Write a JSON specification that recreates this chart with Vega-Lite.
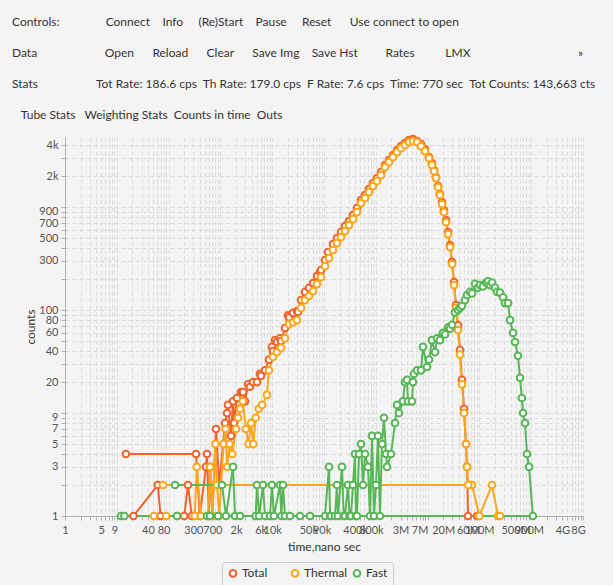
{
"$schema":"https://vega.github.io/schema/vega-lite/v6.json",
"width":518,"height":379,
"autosize":{"type":"none"},
"padding":{"left":65,"top":137,"right":30,"bottom":69},
"background":"#f4f4f4",
"title":{"text":[
"Controls:\u00a0\u00a0\u00a0\u00a0\u00a0\u00a0\u00a0\u00a0\u00a0\u00a0\u00a0\u00a0\u00a0\u00a0\u00a0Connect\u00a0\u00a0\u00a0\u00a0Info\u00a0\u00a0\u00a0\u00a0\u00a0(Re)Start\u00a0\u00a0\u00a0\u00a0Pause\u00a0\u00a0\u00a0\u00a0\u00a0Reset\u00a0\u00a0\u00a0\u00a0\u00a0\u00a0Use connect to open",
"Data\u00a0\u00a0\u00a0\u00a0\u00a0\u00a0\u00a0\u00a0\u00a0\u00a0\u00a0\u00a0\u00a0\u00a0\u00a0\u00a0\u00a0\u00a0\u00a0\u00a0\u00a0\u00a0Open\u00a0\u00a0\u00a0\u00a0\u00a0\u00a0Reload\u00a0\u00a0\u00a0\u00a0\u00a0\u00a0Clear\u00a0\u00a0\u00a0\u00a0\u00a0\u00a0Save Img\u00a0\u00a0\u00a0\u00a0Save Hst\u00a0\u00a0\u00a0\u00a0\u00a0\u00a0\u00a0\u00a0\u00a0Rates\u00a0\u00a0\u00a0\u00a0\u00a0\u00a0\u00a0\u00a0\u00a0\u00a0LMX\u00a0\u00a0\u00a0\u00a0\u00a0\u00a0\u00a0\u00a0\u00a0\u00a0\u00a0\u00a0\u00a0\u00a0\u00a0\u00a0\u00a0\u00a0\u00a0\u00a0\u00a0\u00a0\u00a0\u00a0\u00a0\u00a0\u00a0\u00a0\u00a0\u00a0\u00a0\u00a0\u00a0\u00a0\u00a0»",
"Stats\u00a0\u00a0\u00a0\u00a0\u00a0\u00a0\u00a0\u00a0\u00a0\u00a0\u00a0\u00a0\u00a0\u00a0\u00a0\u00a0\u00a0\u00a0\u00a0Tot Rate: 186.6 cps\u00a0\u00a0Th Rate: 179.0 cps\u00a0\u00a0F Rate: 7.6 cps\u00a0\u00a0Time: 770 sec\u00a0\u00a0Tot Counts: 143,663 cts",
"\u200b\u00a0\u00a0\u00a0Tube Stats\u00a0\u00a0\u00a0Weighting Stats\u00a0\u00a0Counts in time\u00a0\u00a0Outs"],
"anchor":"start","frame":"group","dx":-53,"offset":10,"limit":600,"fontSize":12,"fontWeight":"normal","font":"Lato","color":"#333333","lineHeight":31},
"data":{"values":[
{"s":"Total","i":1,"x":15,"y":4},{"s":"Total","i":2,"x":338,"y":4},{"s":"Total","i":3,"x":400,"y":1},{"s":"Total","i":4,"x":527,"y":3},{"s":"Total","i":5,"x":551,"y":4},{"s":"Total","i":6,"x":600,"y":1},{"s":"Total","i":7,"x":630,"y":3},{"s":"Total","i":8,"x":700,"y":1},{"s":"Total","i":9,"x":822,"y":7},{"s":"Total","i":10,"x":950,"y":2},
{"s":"Total","i":11,"x":1227,"y":8},{"s":"Total","i":12,"x":1340,"y":10},{"s":"Total","i":13,"x":1402,"y":12},{"s":"Total","i":14,"x":1600,"y":6},{"s":"Total","i":15,"x":1751,"y":13},{"s":"Total","i":16,"x":1832,"y":8},{"s":"Total","i":17,"x":2091,"y":14},{"s":"Total","i":18,"x":2500,"y":16},{"s":"Total","i":19,"x":2731,"y":16},{"s":"Total","i":20,"x":2985,"y":13},
{"s":"Total","i":21,"x":3412,"y":19},{"s":"Total","i":22,"x":3726,"y":18},{"s":"Total","i":23,"x":4260,"y":20},{"s":"Total","i":24,"x":5090,"y":20},{"s":"Total","i":25,"x":5810,"y":24},{"s":"Total","i":26,"x":6080,"y":23},{"s":"Total","i":27,"x":7260,"y":26},{"s":"Total","i":28,"x":8670,"y":33},{"s":"Total","i":29,"x":9910,"y":44},{"s":"Total","i":30,"x":10360,"y":40},
{"s":"Total","i":31,"x":11330,"y":51},{"s":"Total","i":32,"x":12380,"y":49},{"s":"Total","i":33,"x":14150,"y":53},{"s":"Total","i":34,"x":14790,"y":50},{"s":"Total","i":35,"x":17660,"y":67},{"s":"Total","i":36,"x":20180,"y":89},{"s":"Total","i":37,"x":21090,"y":85},{"s":"Total","i":38,"x":25200,"y":94},{"s":"Total","i":39,"x":30100,"y":98},{"s":"Total","i":40,"x":31480,"y":96},
{"s":"Total","i":41,"x":35970,"y":125},{"s":"Total","i":42,"x":42980,"y":150},{"s":"Total","i":43,"x":51300,"y":164},{"s":"Total","i":44,"x":61380,"y":183},{"s":"Total","i":45,"x":73300,"y":214},{"s":"Total","i":46,"x":83750,"y":234},{"s":"Total","i":47,"x":87500,"y":245},{"s":"Total","i":48,"x":104500,"y":306},{"s":"Total","i":49,"x":119400,"y":366},{"s":"Total","i":50,"x":149200,"y":437},
{"s":"Total","i":51,"x":178300,"y":500},{"s":"Total","i":52,"x":212800,"y":572},{"s":"Total","i":53,"x":254300,"y":654},{"s":"Total","i":54,"x":304000,"y":731},{"s":"Total","i":55,"x":363000,"y":836},{"s":"Total","i":56,"x":433600,"y":977},{"s":"Total","i":57,"x":518000,"y":1169},{"s":"Total","i":58,"x":619000,"y":1309},{"s":"Total","i":59,"x":739000,"y":1496},{"s":"Total","i":60,"x":883000,"y":1710},
{"s":"Total","i":61,"x":1054000,"y":1914},{"s":"Total","i":62,"x":1260000,"y":2188},{"s":"Total","i":63,"x":1506000,"y":2560},{"s":"Total","i":64,"x":1800000,"y":2860},{"s":"Total","i":65,"x":2150000,"y":3200},{"s":"Total","i":66,"x":2570000,"y":3573},{"s":"Total","i":67,"x":3060000,"y":3910},{"s":"Total","i":68,"x":3660000,"y":4180},{"s":"Total","i":69,"x":4370000,"y":4470},{"s":"Total","i":70,"x":5230000,"y":4570},
{"s":"Total","i":71,"x":6240000,"y":4375},{"s":"Total","i":72,"x":7460000,"y":4090},{"s":"Total","i":73,"x":8910000,"y":3655},{"s":"Total","i":74,"x":10650000,"y":3055},{"s":"Total","i":75,"x":12160000,"y":2673},{"s":"Total","i":76,"x":13300000,"y":2287},{"s":"Total","i":77,"x":14520000,"y":1955},{"s":"Total","i":78,"x":15880000,"y":1600},{"s":"Total","i":79,"x":17300000,"y":1337},{"s":"Total","i":80,"x":18970000,"y":1118},
{"s":"Total","i":81,"x":20700000,"y":935},{"s":"Total","i":82,"x":22700000,"y":748},{"s":"Total","i":83,"x":24800000,"y":572},{"s":"Total","i":84,"x":27100000,"y":427},{"s":"Total","i":85,"x":29600000,"y":292},{"s":"Total","i":86,"x":32400000,"y":187},{"s":"Total","i":87,"x":35300000,"y":112},{"s":"Total","i":88,"x":38600000,"y":71},{"s":"Total","i":89,"x":42200000,"y":41},{"s":"Total","i":90,"x":46100000,"y":21},
{"s":"Total","i":91,"x":50500000,"y":11},{"s":"Total","i":92,"x":55100000,"y":5},{"s":"Total","i":93,"x":57700000,"y":3},{"s":"Total","i":94,"x":60300000,"y":1},{"s":"Total","i":95,"x":90000000,"y":1},{"s":"Total","i":96,"x":21,"y":1},{"s":"Total","i":97,"x":62,"y":2},{"s":"Total","i":98,"x":70,"y":1},{"s":"Total","i":99,"x":200,"y":1},{"s":"Total","i":100,"x":237,"y":2},{"s":"Total","i":101,"x":280,"y":1},
{"s":"Thermal","i":1,"x":78,"y":2},{"s":"Thermal","i":2,"x":63000000,"y":2},{"s":"Thermal","i":3,"x":72000000,"y":2},{"s":"Thermal","i":4,"x":100000000,"y":1},{"s":"Thermal","i":5,"x":175000000,"y":2},{"s":"Thermal","i":6,"x":229000000,"y":1},{"s":"Thermal","i":7,"x":250000000,"y":1},{"s":"Thermal","i":8,"x":52,"y":1},{"s":"Thermal","i":9,"x":90,"y":1},{"s":"Thermal","i":10,"x":150,"y":1},
{"s":"Thermal","i":11,"x":320,"y":1},{"s":"Thermal","i":12,"x":350,"y":3},{"s":"Thermal","i":13,"x":420,"y":1},{"s":"Thermal","i":14,"x":580,"y":1},{"s":"Thermal","i":15,"x":630,"y":3},{"s":"Thermal","i":16,"x":700,"y":1},{"s":"Thermal","i":17,"x":800,"y":5},{"s":"Thermal","i":18,"x":860,"y":2},{"s":"Thermal","i":19,"x":950,"y":1},{"s":"Thermal","i":20,"x":1150,"y":5},
{"s":"Thermal","i":21,"x":1250,"y":7},{"s":"Thermal","i":22,"x":1350,"y":3},{"s":"Thermal","i":23,"x":1500,"y":5},{"s":"Thermal","i":24,"x":1700,"y":4},{"s":"Thermal","i":25,"x":2000,"y":7},{"s":"Thermal","i":26,"x":2200,"y":9},{"s":"Thermal","i":27,"x":2400,"y":11},{"s":"Thermal","i":28,"x":2700,"y":13},{"s":"Thermal","i":29,"x":3100,"y":7},{"s":"Thermal","i":30,"x":3500,"y":5},
{"s":"Thermal","i":31,"x":3900,"y":8},{"s":"Thermal","i":32,"x":4300,"y":5},{"s":"Thermal","i":33,"x":4800,"y":9},{"s":"Thermal","i":34,"x":5500,"y":11},{"s":"Thermal","i":35,"x":6400,"y":12},{"s":"Thermal","i":36,"x":7900,"y":15},{"s":"Thermal","i":37,"x":8670,"y":26},{"s":"Thermal","i":38,"x":10360,"y":35},{"s":"Thermal","i":39,"x":12380,"y":39},{"s":"Thermal","i":40,"x":14790,"y":43},
{"s":"Thermal","i":41,"x":17660,"y":53},{"s":"Thermal","i":42,"x":21090,"y":73},{"s":"Thermal","i":43,"x":25200,"y":76},{"s":"Thermal","i":44,"x":30100,"y":80},{"s":"Thermal","i":45,"x":35970,"y":105},{"s":"Thermal","i":46,"x":42980,"y":125},{"s":"Thermal","i":47,"x":51300,"y":137},{"s":"Thermal","i":48,"x":61380,"y":153},{"s":"Thermal","i":49,"x":73300,"y":179},{"s":"Thermal","i":50,"x":87500,"y":209},
{"s":"Thermal","i":51,"x":104500,"y":267},{"s":"Thermal","i":52,"x":125000,"y":320},{"s":"Thermal","i":53,"x":149200,"y":383},{"s":"Thermal","i":54,"x":178300,"y":447},{"s":"Thermal","i":55,"x":212800,"y":512},{"s":"Thermal","i":56,"x":254300,"y":585},{"s":"Thermal","i":57,"x":304000,"y":669},{"s":"Thermal","i":58,"x":363000,"y":764},{"s":"Thermal","i":59,"x":433600,"y":894},{"s":"Thermal","i":60,"x":518000,"y":1094},
{"s":"Thermal","i":61,"x":619000,"y":1223},{"s":"Thermal","i":62,"x":739000,"y":1399},{"s":"Thermal","i":63,"x":883000,"y":1600},{"s":"Thermal","i":64,"x":1054000,"y":1787},{"s":"Thermal","i":65,"x":1260000,"y":2045},{"s":"Thermal","i":66,"x":1506000,"y":2445},{"s":"Thermal","i":67,"x":1800000,"y":2735},{"s":"Thermal","i":68,"x":2150000,"y":3055},{"s":"Thermal","i":69,"x":2570000,"y":3418},{"s":"Thermal","i":70,"x":3060000,"y":3740},
{"s":"Thermal","i":71,"x":3660000,"y":4000},{"s":"Thermal","i":72,"x":4370000,"y":4276},{"s":"Thermal","i":73,"x":5230000,"y":4375},{"s":"Thermal","i":74,"x":6240000,"y":4276},{"s":"Thermal","i":75,"x":7460000,"y":3910},{"s":"Thermal","i":76,"x":8910000,"y":3500},{"s":"Thermal","i":77,"x":10650000,"y":2990},{"s":"Thermal","i":78,"x":12160000,"y":2560},{"s":"Thermal","i":79,"x":13300000,"y":2237},{"s":"Thermal","i":80,"x":14520000,"y":1914},
{"s":"Thermal","i":81,"x":15880000,"y":1564},{"s":"Thermal","i":82,"x":17300000,"y":1309},{"s":"Thermal","i":83,"x":18970000,"y":1069},{"s":"Thermal","i":84,"x":20700000,"y":894},{"s":"Thermal","i":85,"x":22700000,"y":715},{"s":"Thermal","i":86,"x":24800000,"y":547},{"s":"Thermal","i":87,"x":27100000,"y":409},{"s":"Thermal","i":88,"x":29600000,"y":280},{"s":"Thermal","i":89,"x":32400000,"y":175},{"s":"Thermal","i":90,"x":35300000,"y":105},
{"s":"Thermal","i":91,"x":38600000,"y":64},{"s":"Thermal","i":92,"x":42200000,"y":37},{"s":"Thermal","i":93,"x":46100000,"y":19},{"s":"Thermal","i":94,"x":50500000,"y":10},{"s":"Thermal","i":95,"x":55100000,"y":5},{"s":"Thermal","i":96,"x":57700000,"y":3},{"s":"Thermal","i":97,"x":61000000,"y":2},
{"s":"Fast","i":1,"x":133,"y":2},{"s":"Fast","i":2,"x":1074,"y":2},{"s":"Fast","i":3,"x":1283,"y":1},{"s":"Fast","i":4,"x":1751,"y":3},{"s":"Fast","i":5,"x":1914,"y":1},{"s":"Fast","i":6,"x":2389,"y":1},{"s":"Fast","i":7,"x":4800,"y":1},{"s":"Fast","i":8,"x":5090,"y":2},{"s":"Fast","i":9,"x":5600,"y":1},{"s":"Fast","i":10,"x":6640,"y":2},
{"s":"Fast","i":11,"x":7260,"y":1},{"s":"Fast","i":12,"x":9070,"y":1},{"s":"Fast","i":13,"x":9910,"y":2},{"s":"Fast","i":14,"x":10800,"y":1},{"s":"Fast","i":15,"x":14150,"y":2},{"s":"Fast","i":16,"x":15000,"y":1},{"s":"Fast","i":17,"x":16180,"y":2},{"s":"Fast","i":18,"x":17660,"y":1},{"s":"Fast","i":19,"x":22080,"y":1},{"s":"Fast","i":20,"x":34440,"y":1},
{"s":"Fast","i":21,"x":53700,"y":1},{"s":"Fast","i":22,"x":104500,"y":1},{"s":"Fast","i":23,"x":125000,"y":3},{"s":"Fast","i":24,"x":131000,"y":1},{"s":"Fast","i":25,"x":136500,"y":1},{"s":"Fast","i":26,"x":163000,"y":1},{"s":"Fast","i":27,"x":178300,"y":2},{"s":"Fast","i":28,"x":186000,"y":1},{"s":"Fast","i":29,"x":222700,"y":3},{"s":"Fast","i":30,"x":240000,"y":1},
{"s":"Fast","i":31,"x":254300,"y":1},{"s":"Fast","i":32,"x":290500,"y":2},{"s":"Fast","i":33,"x":310000,"y":1},{"s":"Fast","i":34,"x":331900,"y":1},{"s":"Fast","i":35,"x":363000,"y":2},{"s":"Fast","i":36,"x":396500,"y":4},{"s":"Fast","i":37,"x":414000,"y":1},{"s":"Fast","i":38,"x":433600,"y":1},{"s":"Fast","i":39,"x":474000,"y":4},{"s":"Fast","i":40,"x":518000,"y":5},
{"s":"Fast","i":41,"x":566400,"y":2},{"s":"Fast","i":42,"x":619000,"y":4},{"s":"Fast","i":43,"x":706700,"y":3},{"s":"Fast","i":44,"x":773000,"y":1},{"s":"Fast","i":45,"x":845000,"y":6},{"s":"Fast","i":46,"x":923000,"y":1},{"s":"Fast","i":47,"x":1009000,"y":2},{"s":"Fast","i":48,"x":1103000,"y":6},{"s":"Fast","i":49,"x":1200000,"y":1},{"s":"Fast","i":50,"x":1318000,"y":5},
{"s":"Fast","i":51,"x":1440000,"y":9},{"s":"Fast","i":52,"x":1574000,"y":4},{"s":"Fast","i":53,"x":1645000,"y":3},{"s":"Fast","i":54,"x":1965000,"y":4},{"s":"Fast","i":55,"x":2350000,"y":8},{"s":"Fast","i":56,"x":2570000,"y":12},{"s":"Fast","i":57,"x":2800000,"y":10},{"s":"Fast","i":58,"x":3350000,"y":13},{"s":"Fast","i":59,"x":3660000,"y":20},{"s":"Fast","i":60,"x":4000000,"y":21},
{"s":"Fast","i":61,"x":4190000,"y":13},{"s":"Fast","i":62,"x":5000000,"y":13},{"s":"Fast","i":63,"x":5230000,"y":20},{"s":"Fast","i":64,"x":5460000,"y":24},{"s":"Fast","i":65,"x":6240000,"y":26},{"s":"Fast","i":66,"x":7460000,"y":26},{"s":"Fast","i":67,"x":8150000,"y":44},{"s":"Fast","i":68,"x":9730000,"y":28},{"s":"Fast","i":69,"x":10650000,"y":33},{"s":"Fast","i":70,"x":12160000,"y":51},
{"s":"Fast","i":71,"x":13900000,"y":39},{"s":"Fast","i":72,"x":15200000,"y":53},{"s":"Fast","i":73,"x":17300000,"y":51},{"s":"Fast","i":74,"x":19800000,"y":60},{"s":"Fast","i":75,"x":21700000,"y":58},{"s":"Fast","i":76,"x":24800000,"y":68},{"s":"Fast","i":77,"x":27100000,"y":66},{"s":"Fast","i":78,"x":29600000,"y":72},{"s":"Fast","i":79,"x":33800000,"y":95},{"s":"Fast","i":80,"x":38600000,"y":100},
{"s":"Fast","i":81,"x":42200000,"y":105},{"s":"Fast","i":82,"x":46100000,"y":110},{"s":"Fast","i":83,"x":52700000,"y":125},{"s":"Fast","i":84,"x":57700000,"y":140},{"s":"Fast","i":85,"x":65900000,"y":150},{"s":"Fast","i":86,"x":72000000,"y":145},{"s":"Fast","i":87,"x":82200000,"y":180},{"s":"Fast","i":88,"x":94000000,"y":165},{"s":"Fast","i":89,"x":103000000,"y":175},{"s":"Fast","i":90,"x":117000000,"y":170},
{"s":"Fast","i":91,"x":134000000,"y":185},{"s":"Fast","i":92,"x":147000000,"y":190},{"s":"Fast","i":93,"x":160000000,"y":175},{"s":"Fast","i":94,"x":175000000,"y":185},{"s":"Fast","i":95,"x":200000000,"y":165},{"s":"Fast","i":96,"x":219000000,"y":150},{"s":"Fast","i":97,"x":250000000,"y":148},{"s":"Fast","i":98,"x":286000000,"y":133},{"s":"Fast","i":99,"x":312000000,"y":117},{"s":"Fast","i":100,"x":357000000,"y":117},
{"s":"Fast","i":101,"x":390000000,"y":80},{"s":"Fast","i":102,"x":446000000,"y":60},{"s":"Fast","i":103,"x":487000000,"y":49},{"s":"Fast","i":104,"x":556000000,"y":36},{"s":"Fast","i":105,"x":608000000,"y":22},{"s":"Fast","i":106,"x":660000000,"y":14},{"s":"Fast","i":107,"x":695000000,"y":10},{"s":"Fast","i":108,"x":760000000,"y":8},{"s":"Fast","i":109,"x":830000000,"y":4},{"s":"Fast","i":110,"x":908000000,"y":3},
{"s":"Fast","i":111,"x":1080000000,"y":1},{"s":"Fast","i":112,"x":12,"y":1},{"s":"Fast","i":113,"x":14,"y":1},{"s":"Fast","i":114,"x":145,"y":1},{"s":"Fast","i":115,"x":551,"y":1},{"s":"Fast","i":116,"x":630,"y":1},{"s":"Fast","i":117,"x":899,"y":1}
]},
"encoding":{
"x":{"field":"x","type":"quantitative","scale":{"type":"log","domain":[1,10000000000],"nice":false},
"axis":{"title":"time,nano sec","values":[1,2,3,4,5,6,7,8,9,10,20,30,40,50,60,70,80,90,100,200,300,400,500,600,700,800,900,1000,2000,3000,4000,5000,6000,7000,8000,9000,10000,20000,30000,40000,50000,60000,70000,80000,90000,100000,200000,300000,400000,500000,600000,700000,800000,900000,1000000,2000000,3000000,4000000,5000000,6000000,7000000,8000000,9000000,10000000,20000000,30000000,40000000,50000000,60000000,70000000,80000000,90000000,100000000,200000000,300000000,400000000,500000000,600000000,700000000,800000000,900000000,1000000000,2000000000,3000000000,4000000000,5000000000,6000000000,7000000000,8000000000,9000000000,10000000000],
"labelExpr":"indexof([1,5,9,40,80,300,700,2000,6000,10000,50000,90000,400000,800000,3000000,7000000,20000000,60000000,100000000,500000000,900000000,4000000000,8000000000], datum.value) >= 0 ? format(datum.value, '~s') : ''",
"labelOverlap":false,"labelFlush":false,"labelPadding":4,"titlePadding":6}},
"y":{"field":"y","type":"quantitative","scale":{"type":"log","domain":[1,4800],"nice":false},
"axis":{"title":"counts","values":[1,2,3,4,5,6,7,8,9,10,20,30,40,50,60,70,80,90,100,200,300,400,500,600,700,800,900,1000,2000,3000,4000],
"labelExpr":"indexof([1,3,5,7,9,20,40,60,80,100,300,500,700,900,2000,4000], datum.value) >= 0 ? format(datum.value, '~s') : ''",
"labelOverlap":false,"labelFlush":false,"labelPadding":3,"titlePadding":1}},
"color":{"field":"s","type":"nominal","scale":{"domain":["Total","Thermal","Fast"],"range":["#f3622d","#fba71b","#57b757"]},
"legend":{"title":null,"orient":"none","legendX":157,"legendY":425,"direction":"horizontal","symbolType":"circle","symbolSize":45,"symbolStrokeWidth":2,"strokeColor":"#cccccc","fillColor":"#f4f4f4","padding":5,"cornerRadius":3,"labelFont":"Lato","labelFontSize":12,"labelColor":"#333333","columnPadding":1,"gridAlign":"all","labelOffset":3,"symbolOffset":0,
"encode":{"symbols":{"update":{"fill":{"value":"#ffffff"}}}}}}
},
"layer":[
{"mark":{"type":"line","strokeWidth":2},"encoding":{"order":{"field":"i","type":"quantitative"}}},
{"mark":{"type":"point","filled":false,"fill":"#ffffff","fillOpacity":1,"opacity":1,"strokeWidth":2,"size":45}}
],
"config":{
"view":{"stroke":null},
"axis":{"grid":true,"gridColor":"#dcdcdc","gridDash":[4,3],"gridWidth":1,"domainColor":"#b0b0b0","tickColor":"#b0b0b0","tickSize":4,"labelFont":"Lato","labelFontSize":11,"labelColor":"#555555","titleFont":"Lato","titleFontSize":12,"titleFontWeight":"normal","titleColor":"#333333"}
}
}
